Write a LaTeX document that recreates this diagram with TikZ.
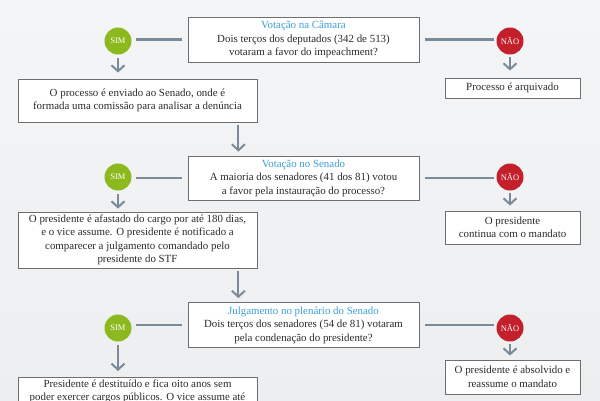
\documentclass[tikz,border=0pt]{standalone}
\usepackage{fontspec}
\setmainfont{Liberation Serif}
\usetikzlibrary{arrows.meta,positioning,calc}
\definecolor{simgreen}{HTML}{8CBA1E}
\definecolor{naored}{HTML}{C4202B}
\definecolor{titleblue}{HTML}{3C9FD8}
\definecolor{boxgray}{HTML}{6E6E6E}
\definecolor{textgray}{HTML}{2B2B2B}
\definecolor{conngray}{HTML}{7A8A99}
\definecolor{bgtop}{HTML}{F4F5F7}
\definecolor{bgbottom}{HTML}{ECEEF0}
\tikzset{>=stealth}

\begin{document}
\begin{tikzpicture}[x=1pt, y=-1pt,
		box/.style={draw=boxgray, fill=white, line width=0.8pt, align=center, text=textgray,
			font=\fontsize{10.9}{13.5}\selectfont, inner sep=2pt},
		sim/.style={circle, fill=simgreen, text=white, minimum size=27pt, inner sep=0pt,
			font=\fontsize{8.5}{8.5}\selectfont},
		nao/.style={sim, fill=naored},
		conn/.style={draw=conngray, line width=2.6pt},
		arr/.style={draw=conngray, line width=2pt, -{Straight Barb[length=6pt, width=13pt, line width=2pt]}}
	]
	% background
	\path[top color=bgtop, bottom color=bgbottom] (0,0) rectangle (600,400);
	\useasboundingbox (0,0) rectangle (600,400);

	% Camara
	\node[box, minimum width=231pt, minimum height=45pt] (camara) at (303.5,39.5)
		{\textcolor{titleblue}{Votação na Câmara}\\Dois terços dos deputados (342 de 513)\\votaram a favor do impeachment?};
	\node[sim] (sim1) at (118,41) {SIM};
	\node[nao] (nao1) at (510,41) {NÃO};
	\node[box, minimum width=239pt, minimum height=43pt] (envio) at (137.5,100.5)
		{O processo é enviado ao Senado, onde é\\formada uma comissão para analisar a denúncia};
	\node[box, minimum width=135pt, minimum height=20pt] (arquivado) at (512.5,88)
		{Processo é arquivado};

	% Senado
	\node[box, minimum width=231pt, minimum height=44pt] (senado) at (303.5,178)
		{\textcolor{titleblue}{Votação no Senado}\\A maioria dos senadores (41 dos 81) votou\\a favor pela instauração do processo?};
	\node[sim] (sim2) at (118,177) {SIM};
	\node[nao] (nao2) at (510,177) {NÃO};
	\node[box, minimum width=239pt, minimum height=56pt] (afastado) at (137.5,240)
		{O presidente é afastado do cargo por até 180 dias,\\e o vice assume. O presidente é notificado a\\comparecer a julgamento comandado pelo\\presidente do STF};
	\node[box, minimum width=135pt, minimum height=33pt] (continua) at (512.5,227.5)
		{O presidente\\continua com o mandato};

	% Julgamento
	\node[box, minimum width=231pt, minimum height=45pt] (julgamento) at (303.5,325)
		{\textcolor{titleblue}{Julgamento no plenário do Senado}\\Dois terços dos senadores (54 de 81) votaram\\pela condenação do presidente?};
	\node[sim] (sim3) at (118,328) {SIM};
	\node[nao] (nao3) at (510,328) {NÃO};
	\node[box, minimum width=239pt, anchor=north] (destituido) at (137.5,377)
		{Presidente é destituído e fica oito anos sem\\poder exercer cargos públicos. O vice assume até};
	\node[box, minimum width=135pt, minimum height=34pt] (absolvido) at (512.5,377)
		{O presidente é absolvido e\\reassume o mandato};

	% connectors
	\foreach \q/\s/\n in {camara/sim1/nao1, senado/sim2/nao2, julgamento/sim3/nao3} {
		\draw[conn, shorten <=6pt, shorten >=4pt] (\q.west) -- (\s.east |- \q.west);
		\draw[conn, shorten <=6pt, shorten >=2pt] (\q.east) -- (\n.west |- \q.east);
	}
	\draw[arr, shorten <=3pt, shorten >=6pt] (sim1) -- (envio.north -| sim1);
	\draw[arr, shorten <=2pt, shorten >=7pt] (nao1) -- (arquivado.north -| nao1);
	\draw[arr, shorten <=3pt, shorten >=3pt] (sim2) -- (afastado.north -| sim2);
	\draw[arr, shorten <=2pt, shorten >=5pt] (nao2) -- (continua.north -| nao2);
	\draw[arr, shorten <=3pt, shorten >=6pt] (sim3) -- (destituido.north -| sim3);
	\draw[arr, shorten <=2pt, shorten >=4pt] (nao3) -- (absolvido.north -| nao3);
	\draw[arr, shorten <=3pt, shorten >=4pt] ([xshift=-19pt]envio.south east) -- ([xshift=-19pt]envio.south east |- senado.north);
	\draw[arr, shorten <=3pt, shorten >=4pt] ([xshift=-19pt]afastado.south east) -- ([xshift=-19pt]afastado.south east |- julgamento.north);
\end{tikzpicture}
\end{document}
